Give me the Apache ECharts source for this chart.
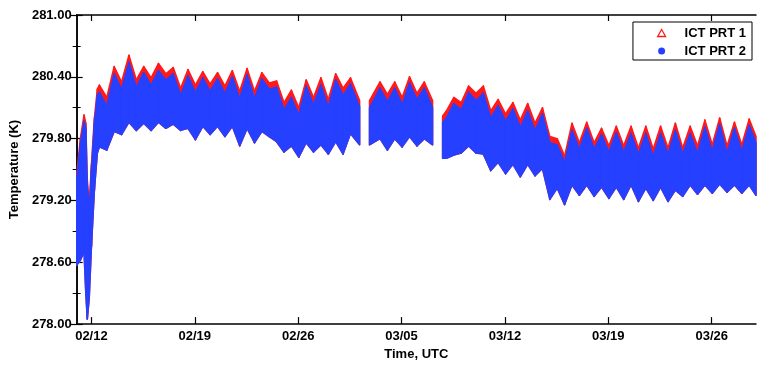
<!DOCTYPE html>
<html><head><meta charset="utf-8">
<script src="https://cdn.jsdelivr.net/npm/echarts@6/dist/echarts.min.js"></script>
<style>html,body{margin:0;padding:0;background:#fff}#c{width:758px;height:366px}</style>
</head><body><div id="c"></div>
<script>
// x ticks: day offsets from 02/11 00:00 UTC
const tickDays = [1, 8, 15, 22, 29, 36, 43];
const tickLabels = ['02/12', '02/19', '02/26', '03/05', '03/12', '03/19', '03/26'];
const seriesNames = ['ICT PRT 1', 'ICT PRT 2'];

// sample times (days since 02/11 00:00 UTC); null = data gap
const sampleDay = [
  0.00, 0.25, 0.50, 0.62, 0.72, 0.85, 1.00, 1.20, 1.40, 1.54,
  2.04, 2.54, 3.04, 3.54, 4.04, 4.54, 5.04, 5.54, 6.04, 6.54,
  7.04, 7.54, 8.04, 8.54, 9.04, 9.54, 10.04, 10.54, 11.04, 11.54,
  12.04, 12.54, 13.04, 13.54, 14.04, 14.54, 15.04, 15.54, 16.04, 16.54,
  17.04, 17.54, 18.04, 18.54, 19.16, null, 19.83, 20.54, 21.04, 21.54,
  22.04, 22.54, 23.04, 23.54, 24.10, null, 24.78, 25.04, 25.54, 26.04,
  26.54, 27.04, 27.54, 28.04, 28.54, 29.04, 29.54, 30.04, 30.54, 31.04,
  31.54, 32.04, 32.54, 33.04, 33.54, 34.04, 34.54, 35.04, 35.54, 36.04,
  36.54, 37.04, 37.54, 38.04, 38.54, 39.04, 39.54, 40.04, 40.54, 41.04,
  41.54, 42.04, 42.54, 43.04, 43.54, 44.04, 44.54, 45.04, 45.54, 46.00
];
// ICT PRT 1: upper envelope of the scatter (K)
const prt1High = [
  279.45, 279.80, 280.03, 279.95, 279.40, 279.15, 279.55, 280.00, 280.28, 280.32,
  280.20, 280.50, 280.35, 280.61, 280.37, 280.50, 280.39, 280.53, 280.43, 280.49,
  280.29, 280.47, 280.32, 280.45, 280.33, 280.44, 280.31, 280.46, 280.26, 280.48,
  280.26, 280.44, 280.34, 280.36, 280.15, 280.27, 280.10, 280.37, 280.20, 280.39,
  280.18, 280.43, 280.29, 280.39, 280.17, null, 280.17, 280.35, 280.23, 280.35,
  280.20, 280.40, 280.24, 280.35, 280.17, null, 280.02, 280.07, 280.20, 280.15,
  280.31, 280.24, 280.31, 280.07, 280.18, 280.04, 280.15, 279.98, 280.14, 279.95,
  280.10, 279.82, 279.80, 279.63, 279.95, 279.76, 279.96, 279.76, 279.90, 279.73,
  279.92, 279.73, 279.92, 279.71, 279.92, 279.70, 279.92, 279.71, 279.95, 279.71,
  279.92, 279.73, 279.98, 279.74, 280.00, 279.73, 279.96, 279.74, 279.99, 279.82
];
// ICT PRT 2: upper envelope (K)
const prt2High = [
  279.40, 279.74, 279.97, 279.90, 279.35, 279.10, 279.50, 279.95, 280.22, 280.25,
  280.12, 280.43, 280.28, 280.54, 280.30, 280.44, 280.32, 280.46, 280.37, 280.43,
  280.22, 280.41, 280.25, 280.39, 280.26, 280.38, 280.24, 280.40, 280.19, 280.42,
  280.19, 280.38, 280.28, 280.30, 280.08, 280.20, 280.03, 280.31, 280.13, 280.32,
  280.11, 280.37, 280.22, 280.33, 280.11, null, 280.10, 280.29, 280.16, 280.29,
  280.13, 280.34, 280.18, 280.29, 280.10, null, 279.96, 280.00, 280.14, 280.08,
  280.25, 280.17, 280.24, 280.00, 280.12, 279.97, 280.09, 279.91, 280.07, 279.88,
  280.04, 279.76, 279.74, 279.57, 279.88, 279.70, 279.90, 279.70, 279.84, 279.67,
  279.86, 279.67, 279.85, 279.65, 279.85, 279.63, 279.85, 279.65, 279.88, 279.65,
  279.85, 279.66, 279.91, 279.68, 279.94, 279.66, 279.90, 279.68, 279.93, 279.76
];
// lower envelope of the scatter (K); PRT 1's lower edge lies hidden under PRT 2
const prt2Low = [
  278.57, 278.62, 278.70, 278.30, 278.05, 278.25, 278.75, 279.30, 279.66, 279.72,
  279.69, 279.87, 279.84, 279.96, 279.88, 279.95, 279.88, 279.96, 279.90, 279.94,
  279.88, 279.90, 279.79, 279.92, 279.84, 279.92, 279.82, 279.92, 279.73, 279.90,
  279.76, 279.87, 279.82, 279.77, 279.67, 279.73, 279.62, 279.76, 279.67, 279.74,
  279.65, 279.77, 279.65, 279.85, 279.74, null, 279.74, 279.80, 279.69, 279.80,
  279.72, 279.82, 279.73, 279.80, 279.74, null, 279.61, 279.61, 279.64, 279.66,
  279.73, 279.66, 279.65, 279.49, 279.57, 279.46, 279.55, 279.43, 279.55, 279.44,
  279.51, 279.21, 279.32, 279.16, 279.35, 279.25, 279.35, 279.24, 279.33, 279.22,
  279.33, 279.21, 279.35, 279.19, 279.32, 279.20, 279.33, 279.19, 279.30, 279.24,
  279.35, 279.26, 279.35, 279.27, 279.36, 279.28, 279.35, 279.27, 279.35, 279.25
];
const prt1Low = prt2Low;

const FONT = "'Liberation Sans', Arial, Helvetica, sans-serif";
const RED = '#ff1a1a', BLUE = '#2640ff';

function segments(hi, lo) {
  const out = [];
  for (let i = 0; i < sampleDay.length - 1; i++) {
    if (sampleDay[i] == null || sampleDay[i + 1] == null) continue;
    out.push([sampleDay[i], hi[i], lo[i], sampleDay[i + 1], hi[i + 1], lo[i + 1]]);
  }
  return out;
}
function bandSeries(name, hi, lo, color) {
  return {
    type: 'custom', name: name, data: segments(hi, lo),
    encode: { x: [0, 3], y: [1, 2, 4, 5] }, clip: true,
    itemStyle: { color: color },
    renderItem: function (params, api) {
      const pts = [
        api.coord([api.value(0), api.value(1)]),
        api.coord([api.value(3), api.value(4)]),
        api.coord([api.value(3), api.value(5)]),
        api.coord([api.value(0), api.value(2)])
      ];
      return { type: 'polygon', shape: { points: pts },
        style: { fill: color, stroke: color, lineWidth: 1.5, lineJoin: 'round' } };
    }
  };
}

const axisLine = { show: true, lineStyle: { color: '#000', width: 1.5 } };
const lblStyle = { color: '#000', fontWeight: 'bold', fontSize: 13, fontFamily: FONT };

const chart = echarts.init(document.getElementById('c'), null, { renderer: 'canvas' });
chart.setOption({
  animation: false,
  backgroundColor: '#fff',
  grid: { left: 74, right: 2, top: 15, bottom: 33, containLabel: false },
  legend: {
    orient: 'vertical', right: 6, top: 22,
    padding: [4, 6, 2, 24], itemGap: 4, itemWidth: 8, itemHeight: 7,
    symbolKeepAspect: true,
    borderColor: '#000', borderWidth: 1, borderRadius: 0, backgroundColor: '#fff',
    textStyle: Object.assign({ lineHeight: 14, padding: [0, 0, 0, 14] }, lblStyle),
    data: [
      { name: seriesNames[0], icon: 'triangle', itemStyle: { color: '#fff', borderColor: RED, borderWidth: 1.3 } },
      { name: seriesNames[1], icon: 'circle', itemStyle: { color: BLUE } }
    ]
  },
  xAxis: [
    {
      type: 'value', min: 0, max: 46, position: 'bottom',
      axisLine: axisLine,
      axisTick: { inside: true, length: 7, customValues: tickDays, lineStyle: { color: '#000', width: 1.2 } },
      axisLabel: Object.assign({ customValues: tickDays, margin: 6,
        formatter: function (v) { const i = tickDays.indexOf(Math.round(v)); return i >= 0 ? tickLabels[i] : ''; } }, lblStyle),
      splitLine: { show: false },
      name: 'Time, UTC', nameLocation: 'middle', nameGap: 22, nameTextStyle: lblStyle
    },
    {
      type: 'value', min: 0, max: 46, position: 'top',
      axisLine: axisLine,
      axisTick: { inside: true, length: 6, customValues: tickDays, lineStyle: { color: '#000', width: 1.2 } },
      axisLabel: { show: false, customValues: tickDays },
      splitLine: { show: false }
    }
  ],
  yAxis: [
    {
      type: 'value', min: 278, max: 281, interval: 0.6, position: 'left',
      axisLine: axisLine,
      axisTick: { inside: true, length: 6, lineStyle: { color: '#000', width: 1.2 } },
      minorTick: { show: true, splitNumber: 2, length: 4, lineStyle: { color: '#000', width: 1 } },
      axisLabel: Object.assign({ margin: 5, formatter: function (v) { return v.toFixed(2); } }, lblStyle),
      splitLine: { show: false },
      name: 'Temperature (K)', nameLocation: 'middle', nameGap: 47, nameTextStyle: lblStyle
    },
    {
      type: 'value', min: 278, max: 281, interval: 0.6, position: 'right',
      axisLine: axisLine,
      axisTick: { inside: true, length: 6, lineStyle: { color: '#000', width: 1.2 } },
      minorTick: { show: true, splitNumber: 2, length: 4, lineStyle: { color: '#000', width: 1 } },
      axisLabel: { show: false },
      splitLine: { show: false }
    }
  ],
  series: [
    bandSeries(seriesNames[0], prt1High, prt1Low, RED),
    bandSeries(seriesNames[1], prt2High, prt2Low, BLUE)
  ]
});
</script>
</body></html>
